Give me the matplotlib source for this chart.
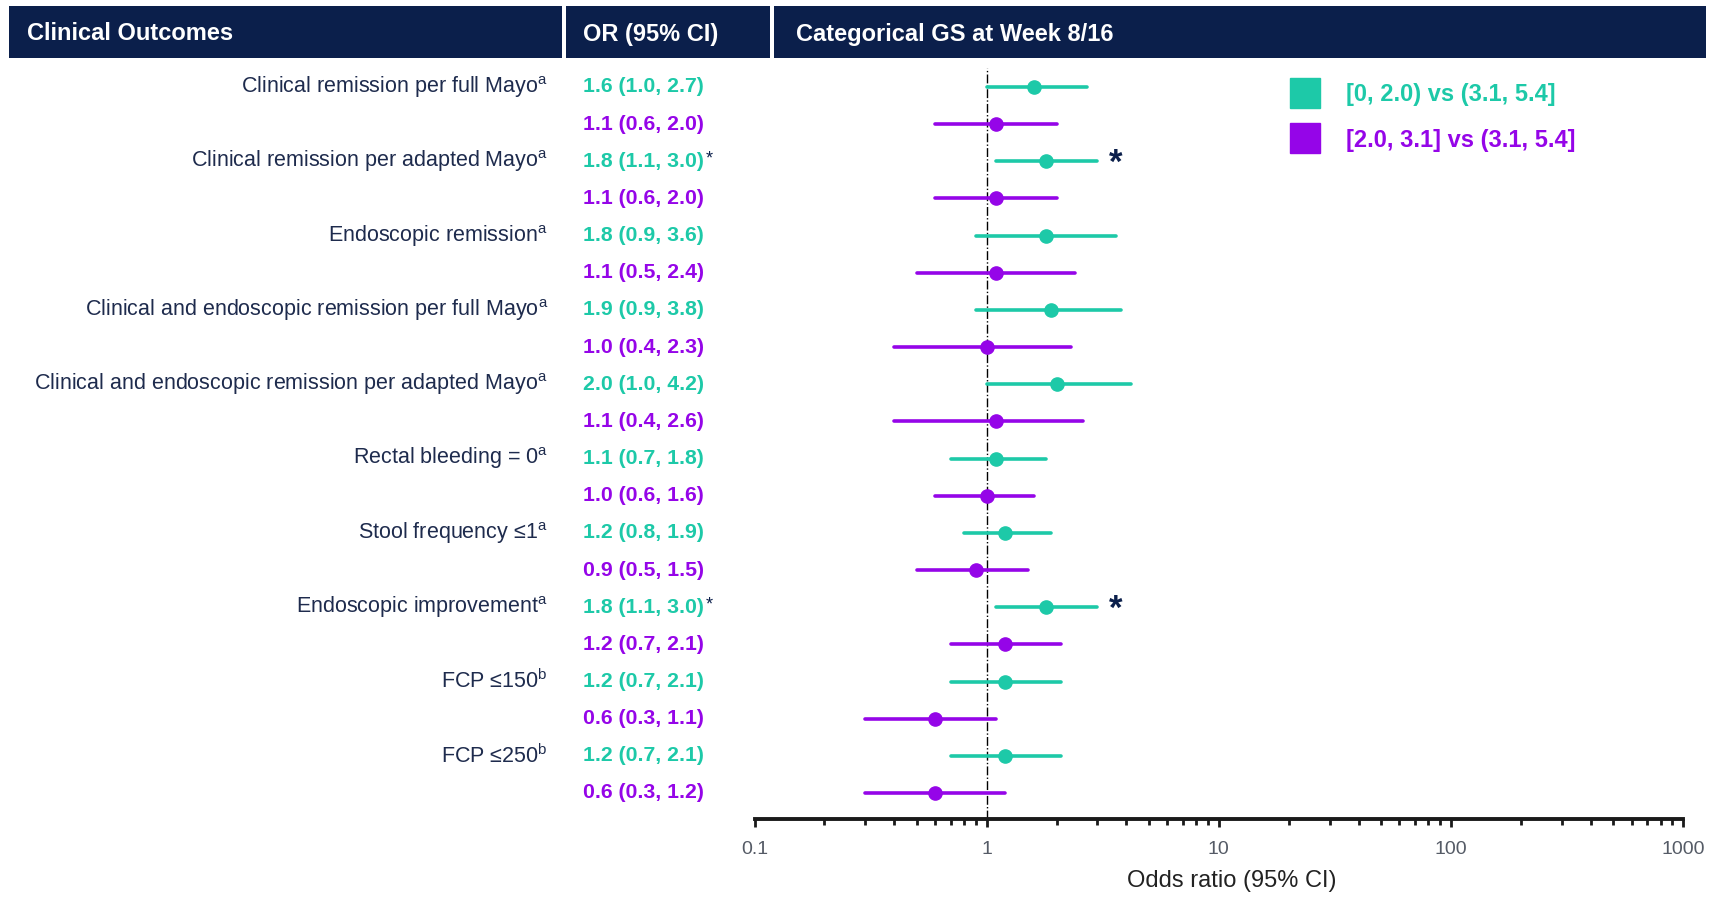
import matplotlib
matplotlib.use("Agg")
import matplotlib.pyplot as plt
import matplotlib.transforms as mtransforms
from matplotlib.lines import Line2D
from matplotlib.patches import Rectangle
from matplotlib.ticker import LogLocator, FixedFormatter, FixedLocator
import numpy as np

plt.rcParams["font.family"] = ["Liberation Sans", "DejaVu Sans"]
plt.rcParams["mathtext.fontset"] = "custom"
plt.rcParams["mathtext.rm"] = "Liberation Sans"

# data
outcomes = ["Clinical remission per full Mayo",
            "Clinical remission per adapted Mayo",
            "Endoscopic remission",
            "Clinical and endoscopic remission per full Mayo",
            "Clinical and endoscopic remission per adapted Mayo",
            "Rectal bleeding = 0",
            "Stool frequency \u22641",
            "Endoscopic improvement",
            "FCP \u2264150",
            "FCP \u2264250"]
footnotes = ["a", "a", "a", "a", "a", "a", "a", "a", "b", "b"]

or_low = [1.6, 1.8, 1.8, 1.9, 2.0, 1.1, 1.2, 1.8, 1.2, 1.2]
lo_low = [1.0, 1.1, 0.9, 0.9, 1.0, 0.7, 0.8, 1.1, 0.7, 0.7]
hi_low = [2.7, 3.0, 3.6, 3.8, 4.2, 1.8, 1.9, 3.0, 2.1, 2.1]
sig_low = [False, True, False, False, False, False, False, True, False, False]

or_mid = [1.1, 1.1, 1.1, 1.0, 1.1, 1.0, 0.9, 1.2, 0.6, 0.6]
lo_mid = [0.6, 0.6, 0.5, 0.4, 0.4, 0.6, 0.5, 0.7, 0.3, 0.3]
hi_mid = [2.0, 2.0, 2.4, 2.3, 2.6, 1.6, 1.5, 2.1, 1.1, 1.2]
sig_mid = [False] * 10

group_labels = ["[0, 2.0) vs (3.1, 5.4]", "[2.0, 3.1] vs (3.1, 5.4]"]
headers = ["Clinical Outcomes", "OR (95% CI)", "Categorical GS at Week 8/16"]
xtick_vals = [0.1, 1, 10, 100, 1000]
xtick_labels = ["0.1", "1", "10", "100", "1000"]

teal = "#1DC9A8"
purple = "#9505E8"
navy = "#0B1F4B"
label_col = "#1E2B4D"

W, H = 1717, 907
fig = plt.figure(figsize=(W / 100, H / 100), dpi=100)

# axes placement in pixels
ax_l, ax_r = 754.5, 1683
ax_top, ax_bot = 68, 819
row0, row_last = 87, 793
n_rows = 2 * len(outcomes)
step = (row_last - row0) / (n_rows - 1)
ax = fig.add_axes([ax_l / W, (H - ax_bot) / H, (ax_r - ax_l) / W, (ax_bot - ax_top) / H])
ax.set_xscale("log")
ax.set_xlim(0.1, 1000)
ax.set_ylim((n_rows - 1) + (ax_bot - row_last) / step, -(row0 - ax_top) / step)

for side in ["top", "right", "left"]:
    ax.spines[side].set_visible(False)
ax.spines["bottom"].set_linewidth(2.8)
ax.spines["bottom"].set_color("#1a1a1a")
ax.set_yticks([])
ax.xaxis.set_major_locator(FixedLocator(xtick_vals))
ax.xaxis.set_major_formatter(FixedFormatter(xtick_labels))
ax.xaxis.set_minor_locator(LogLocator(base=10, subs=np.arange(2, 10)))
ax.xaxis.set_minor_formatter(matplotlib.ticker.NullFormatter())
ax.tick_params(axis="x", which="major", direction="out", length=6, width=2,
               colors="#1a1a1a", labelcolor="#555b66", labelsize=14, pad=10)
ax.tick_params(axis="x", which="minor", direction="out", length=4.5, width=2, colors="#1a1a1a")
ax.set_xlabel("Odds ratio (95% CI)", fontsize=17, color="#222222")
ax.xaxis.set_label_coords(0.514, -0.068)

ax.axvline(1, color="black", linestyle="-.", linewidth=1.0, zorder=1)

series = [(or_low, lo_low, hi_low, sig_low, teal, 0),
          (or_mid, lo_mid, hi_mid, sig_mid, purple, 1)]

tr_fig_data = mtransforms.blended_transform_factory(fig.transFigure, ax.transData)

for est, lo, hi, sig, col, off in series:
    ys = np.arange(len(est)) * 2 + off
    ax.hlines(ys, lo, hi, color=col, linewidth=2.6, capstyle="round", zorder=2)
    ax.plot(est, ys, "o", color=col, markersize=9.5, zorder=3)
    for i, y in enumerate(ys):
        t = ax.text(583 / W, y, f"{est[i]:.1f} ({lo[i]:.1f}, {hi[i]:.1f})",
                    transform=tr_fig_data, ha="left", va="center",
                    fontsize=15.3, fontweight="bold", color=col)
        if sig[i]:
            ax.annotate("*", xy=(1, 1), xycoords=t, ha="left", va="top",
                        fontsize=13, color=navy, xytext=(1, 1), textcoords="offset points")
            ax.text(hi[i] * 1.12, y + 0.05, "*", ha="left", va="center", fontsize=25,
                    fontweight="bold", color=navy)

for i, name in enumerate(outcomes):
    ax.text(548 / W, 2 * i, name + r"$^{\mathregular{" + footnotes[i] + "}}$",
            transform=tr_fig_data, ha="right", va="center", fontsize=15.5, color=label_col)

# header band
cells = [(9, 562), (566, 770), (774, 1706)]
text_x = [27, 583, 796]
for (x0, x1), tx, hd in zip(cells, text_x, headers):
    fig.add_artist(Rectangle((x0 / W, (H - 58) / H), (x1 - x0) / W, 52 / H,
                             transform=fig.transFigure, facecolor=navy, edgecolor="none"))
    fig.text(tx / W, (H - 34) / H, hd, ha="left", va="center", fontsize=17,
             fontweight="bold", color="white")

handles = [Line2D([], [], marker="s", linestyle="none", markersize=21,
                  markerfacecolor=c, markeredgecolor=c) for c in (teal, purple)]
leg = fig.legend(handles, group_labels, loc="upper left",
                 bbox_to_anchor=(1270 / W, (H - 62) / H), bbox_transform=fig.transFigure,
                 frameon=False, labelcolor="markerfacecolor", handletextpad=1.1,
                 labelspacing=0.95, handlelength=1.2,
                 prop={"size": 17, "weight": "bold"})

fig.savefig("out.png", dpi=100)
